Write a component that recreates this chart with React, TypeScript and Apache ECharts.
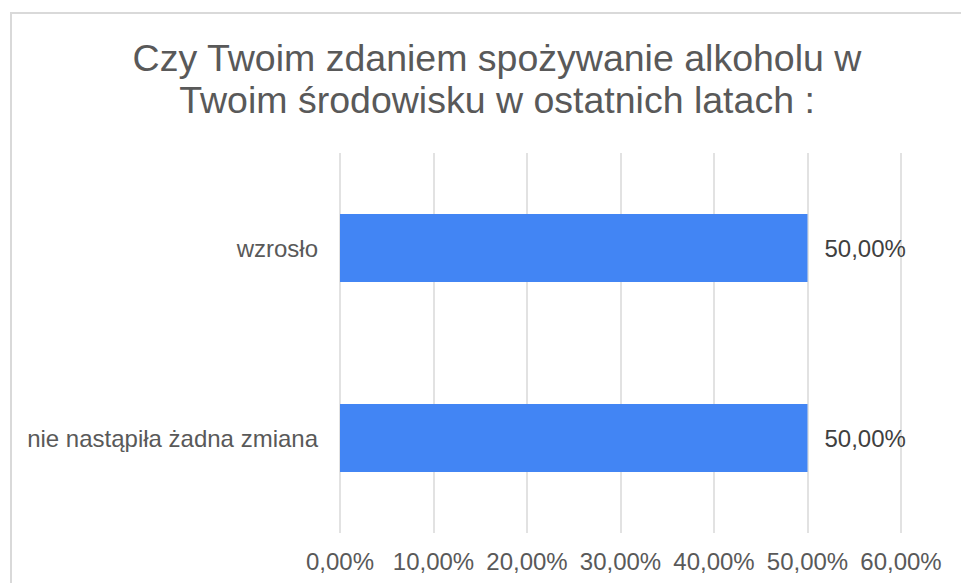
import React, { useEffect, useRef } from "react";
import * as echarts from "echarts";

const titleLines = [
  "Czy Twoim zdaniem spożywanie alkoholu w",
  "Twoim środowisku w ostatnich latach :",
];
const categories = ["wzrosło", "nie nastąpiła żadna zmiana"];
const values = [0.5, 0.5];
const axisMin = 0;
const axisMax = 0.6;
const axisStep = 0.1;

const pct = (v: number) => (v * 100).toFixed(2).replace(".", ",") + "%";

export default function App() {
  const ref = useRef<HTMLDivElement>(null);
  useEffect(() => {
    if (!ref.current) return;
    const chart = echarts.init(ref.current, null, { renderer: "svg" });
    chart.setOption({
      animation: false,
      backgroundColor: "#ffffff",
      textStyle: { fontFamily: "Liberation Sans, Arial, sans-serif" },
      title: {
        text: titleLines.join("\n"),
        left: 492,
        top: 32,
        textAlign: "center",
        textStyle: {
          fontSize: 37.5,
          fontWeight: "normal",
          color: "#595959",
          lineHeight: 42,
          fontFamily: "Liberation Sans, Arial, sans-serif",
        },
      },
      graphic: [
        {
          type: "rect",
          shape: { x: 11, y: 13, width: 1200, height: 800 },
          style: { fill: "none", stroke: "#d9d9d9", lineWidth: 2 },
          silent: true,
        },
      ],
      grid: { left: 340, right: 60, top: 153, bottom: 50, containLabel: false },
      xAxis: {
        type: "value",
        min: axisMin,
        max: axisMax,
        interval: axisStep,
        axisLine: { show: false },
        axisTick: { show: false },
        splitLine: { show: true, lineStyle: { color: "#d9d9d9", width: 1.5 } },
        axisLabel: {
          formatter: (v: number) => pct(v),
          fontSize: 24,
          color: "#595959",
          margin: 16,
        },
      },
      yAxis: {
        type: "category",
        data: categories,
        inverse: true,
        axisLine: { show: false },
        axisTick: { show: false },
        axisLabel: { fontSize: 24, color: "#595959", margin: 22, padding: [6, 0, 0, 0] },
      },
      series: [
        {
          type: "bar",
          data: values,
          barWidth: 68,
          itemStyle: { color: "#4285f4" },
          label: {
            show: true,
            position: "right",
            distance: 17,
            formatter: (p: any) => pct(p.value),
            fontSize: 24,
            color: "#404040",
          },
        },
      ],
    });
    return () => chart.dispose();
  }, []);
  return (
    <div
      ref={ref}
      style={{ position: "absolute", left: 0, top: 0, width: 961, height: 583 }}
    />
  );
}
